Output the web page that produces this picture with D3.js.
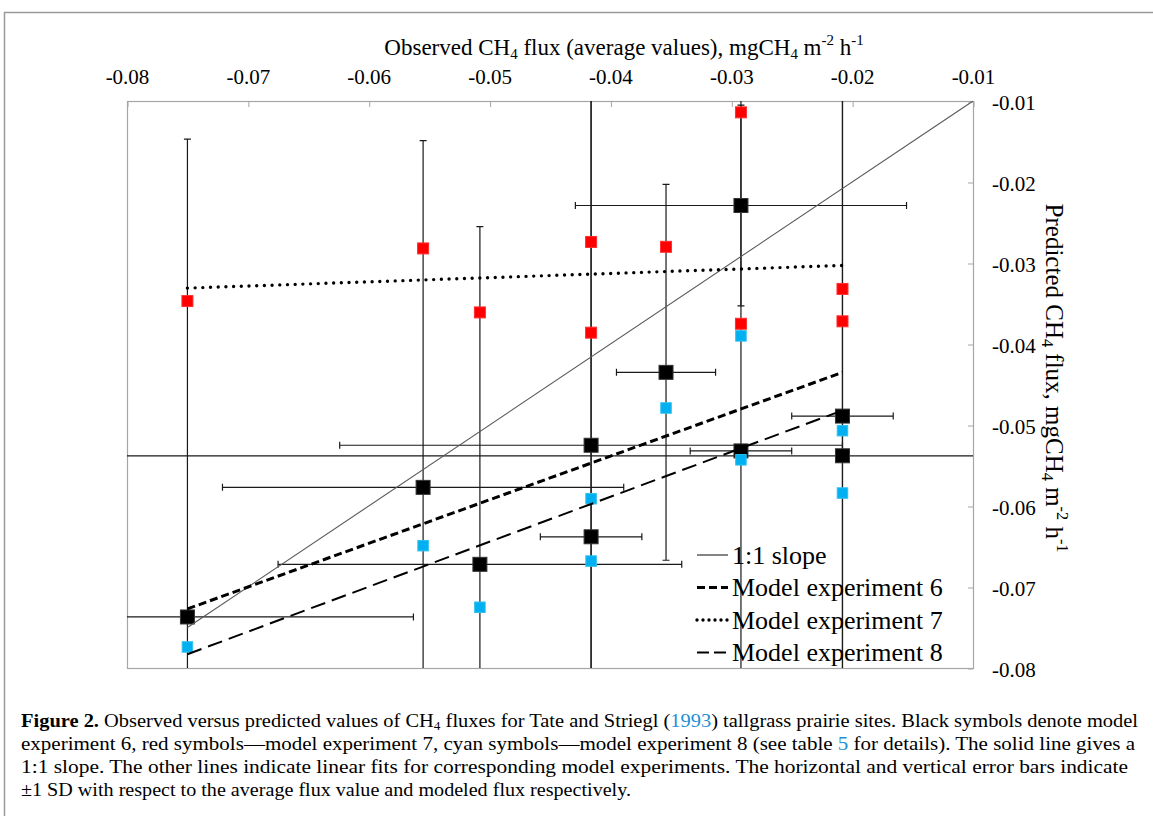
<!DOCTYPE html>
<html>
<head>
<meta charset="utf-8">
<script src="https://cdn.jsdelivr.net/npm/d3@7"></script>
<style>
  body { margin: 0; background: #fff; }
  svg { display: block; font-family: "Liberation Serif", "Times New Roman", serif; }
</style>
</head>
<body>
<div id="chart"></div>
<script>
// observed fluxes (x) with SD, and model experiments (y)
var observed = [-0.0750, -0.0555, -0.0508, -0.0416, -0.0416, -0.0354, -0.0292, -0.0292, -0.0208, -0.0208];
var observedSD = [0.0187, 0.0166, 0.0167, 0.0208, 0.0042, 0.0041, 0.0137, 0.0042, 0.0042, 0.0620];
var exp6 = [-0.0737, -0.0577, -0.0672, -0.0525, -0.0638, -0.0435, -0.0229, -0.0532, -0.0489, -0.0538];
var exp6SD = [0.0590, 0.0428, 0.0417, 0.0460, 0.0600, 0.0232, 0.0124, 0.0450, 0.0450, 0.0500];
var exp7 = [-0.0347, -0.0282, -0.0361, -0.0274, -0.0386, -0.0280, -0.0114, -0.0375, -0.0332, -0.0372];
var exp8 = [-0.0774, -0.0649, -0.0725, -0.0591, -0.0668, -0.0479, -0.0390, -0.0543, -0.0507, -0.0584];

// linear fits (end points) and 1:1 line
var fitX = [-0.0750, -0.0208];
var fit6 = [-0.0727, -0.0435];
var fit7 = [-0.0331, -0.0303];
var fit8 = [-0.0783, -0.0482];
var oneToOne = [-0.075, -0.01];

var xTicks = [-0.08, -0.07, -0.06, -0.05, -0.04, -0.03, -0.02, -0.01];
var yTicks = [-0.01, -0.02, -0.03, -0.04, -0.05, -0.06, -0.07, -0.08];

var legendLabels = ["1:1 slope", "Model experiment 6", "Model experiment 7", "Model experiment 8"];

var W = 1153, H = 816;
var plot = {left: 127, top: 101, right: 973, bottom: 668};

var svg = d3.select("#chart").append("svg")
  .attr("width", W).attr("height", H);

// figure frame
svg.append("path")
  .attr("d", "M4.5,816V12.5H1153")
  .attr("fill", "none").attr("stroke", "#9a9a9a").attr("stroke-width", 1.5);

var x = d3.scaleLinear().domain([-0.08, -0.01]).range([plot.left, plot.right]);
var y = d3.scaleLinear().domain([-0.08, -0.01]).range([plot.bottom, plot.top]);

svg.append("clipPath").attr("id", "clip")
  .append("rect")
  .attr("x", plot.left).attr("y", plot.top)
  .attr("width", plot.right - plot.left).attr("height", plot.bottom - plot.top);

// plot frame
svg.append("rect")
  .attr("x", plot.left + 0.5).attr("y", plot.top + 0.5)
  .attr("width", plot.right - plot.left).attr("height", plot.bottom - plot.top)
  .attr("fill", "none").attr("stroke", "#a6a6a6").attr("stroke-width", 1.2);

var fmt = function(d) { return d3.format(".2f")(d).replace("\u2212", "-"); };

// top axis
var xAxis = svg.append("g")
  .attr("transform", "translate(0," + plot.top + ")")
  .call(d3.axisTop(x).tickValues(xTicks).tickFormat(fmt)
    .tickSizeInner(-6).tickSizeOuter(0).tickPadding(17));
xAxis.attr("font-family", "Liberation Serif").attr("font-size", 21);
xAxis.select(".domain").remove();
xAxis.selectAll("line").attr("stroke", "#a6a6a6").attr("transform", "translate(0.5,0)");
xAxis.selectAll("text").attr("fill", "#000");

// right axis
var yAxis = svg.append("g")
  .attr("transform", "translate(" + plot.right + ",0)")
  .call(d3.axisRight(y).tickValues(yTicks).tickFormat(fmt)
    .tickSizeInner(-5).tickSizeOuter(0).tickPadding(19));
yAxis.attr("font-family", "Liberation Serif").attr("font-size", 21);
yAxis.select(".domain").remove();
yAxis.selectAll("line").attr("stroke", "#a6a6a6").attr("transform", "translate(0,0.5)");
yAxis.selectAll("text").attr("fill", "#000").attr("dy", "0.4em");

// axis titles
function addTitle(sel, parts) {
  parts.forEach(function(p) {
    var t = sel.append("tspan").text(p[0]);
    if (p[1] == "sub") t.attr("font-size", "0.65em").attr("dy", "0.25em");
    if (p[1] == "sup") t.attr("font-size", "0.65em").attr("dy", "-0.7em");
    if (p[1] == "back-sub") t.attr("dy", "-0.1625em");
    if (p[1] == "back-sup") t.attr("dy", "0.455em");
  });
}

var xTitle = svg.append("text")
  .attr("x", 624).attr("y", 55)
  .attr("text-anchor", "middle")
  .style("font-size", "23px");
addTitle(xTitle, [["Observed CH"], ["4", "sub"], [" flux (average values), mgCH", "back-sub"], ["4", "sub"],
  [" m", "back-sub"], ["-2", "sup"], [" h", "back-sup"], ["-1", "sup"]]);

var yTitle = svg.append("text")
  .attr("transform", "translate(1046,378) rotate(90)")
  .attr("text-anchor", "middle")
  .style("font-size", "25px");
addTitle(yTitle, [["Predicted CH"], ["4", "sub"], [" flux, mgCH", "back-sub"], ["4", "sub"],
  [" m", "back-sub"], ["-2", "sup"], [" h", "back-sup"], ["-1", "sup"]]);

var inner = svg.append("g").attr("clip-path", "url(#clip)");

var idx = d3.range(observed.length);

// error bars
var eb = inner.append("g").attr("stroke", "#1a1a1a").attr("stroke-width", 1.2).attr("fill", "none");
idx.forEach(function(i) {
  var cx = x(observed[i]), cy = y(exp6[i]);
  var x0 = x(observed[i] - observedSD[i]), x1 = x(observed[i] + observedSD[i]);
  var y0 = y(exp6[i] + exp6SD[i]), y1 = y(exp6[i] - exp6SD[i]);
  eb.append("path").attr("d",
    "M" + x0 + "," + cy + "H" + x1 +
    "M" + x0 + "," + (cy - 3.5) + "V" + (cy + 3.5) +
    "M" + x1 + "," + (cy - 3.5) + "V" + (cy + 3.5));
  eb.append("path").attr("d",
    "M" + cx + "," + y0 + "V" + y1 +
    "M" + (cx - 3.5) + "," + y0 + "H" + (cx + 3.5) +
    "M" + (cx - 3.5) + "," + y1 + "H" + (cx + 3.5));
});

// markers
function squares(values, size, fill, stroke) {
  inner.append("g").selectAll("rect")
    .data(idx)
    .enter()
    .append("rect")
    .attr("x", function(i) { return x(observed[i]) - size / 2; })
    .attr("y", function(i) { return y(values[i]) - size / 2; })
    .attr("width", size).attr("height", size)
    .attr("fill", fill)
    .attr("stroke", stroke).attr("stroke-width", 1);
}
squares(exp6, 14, "#000", "#333");
squares(exp7, 11, "#ff0000", "#ff3030");
squares(exp8, 10.5, "#00b0f0", "#30c0f0");

// fit lines
var styles = [
  {stroke: "#595959", width: 1.1, dash: null, cap: "butt"},
  {stroke: "#000", width: 3, dash: "8,4", cap: "butt"},
  {stroke: "#000", width: 3.4, dash: "0,7.7", cap: "round"},
  {stroke: "#000", width: 2, dash: "15,7", cap: "butt"}
];
var lines = [
  [[oneToOne[0], oneToOne[0]], [oneToOne[1], oneToOne[1]]],
  [[fitX[0], fit6[0]], [fitX[1], fit6[1]]],
  [[fitX[0], fit7[0]], [fitX[1], fit7[1]]],
  [[fitX[0], fit8[0]], [fitX[1], fit8[1]]]
];
var line = d3.line().x(function(d) { return x(d[0]); }).y(function(d) { return y(d[1]); });
lines.forEach(function(l, k) {
  inner.append("path")
    .attr("d", line(l))
    .attr("fill", "none")
    .attr("stroke", styles[k].stroke)
    .attr("stroke-width", styles[k].width)
    .attr("stroke-dasharray", styles[k].dash)
    .attr("stroke-linecap", styles[k].cap);
});

// legend
var legend = svg.append("g").attr("transform", "translate(697,555)");
legendLabels.forEach(function(lab, k) {
  var g = legend.append("g").attr("transform", "translate(0," + (k * 32.5) + ")");
  g.append("line")
    .attr("x1", 0).attr("x2", 31).attr("y1", 0).attr("y2", 0)
    .attr("stroke", k == 0 ? "#333" : "#000")
    .attr("stroke-width", k == 0 ? 1.2 : styles[k].width)
    .attr("stroke-dasharray", k == 2 ? "0,6" : (k == 3 ? "12,5" : styles[k].dash))
    .attr("stroke-linecap", styles[k].cap);
  g.append("text")
    .attr("x", 35).attr("y", 0).attr("dy", "0.33em")
    .style("font-size", "26px")
    .text(lab);
});

// caption
var captionLines = [
  [["Figure 2.", "b"], [" Observed versus predicted values of CH"], ["4", "sub"], [" fluxes for Tate and Striegl (", "back-sub"], ["1993", "link"], [") tallgrass prairie sites. Black symbols denote model"]],
  [["experiment 6, red symbols\u2014model experiment 7, cyan symbols\u2014model experiment 8 (see table "], ["5", "link"], [" for details). The solid line gives a"]],
  [["1:1 slope. The other lines indicate linear fits for corresponding model experiments. The horizontal and vertical error bars indicate"]],
  [["\u00b11 SD with respect to the average flux value and modeled flux respectively."]]
];
var captionWidths = [1117, 1114, 1107, 610];
captionLines.forEach(function(parts, k) {
  var t = svg.append("text")
    .attr("x", 21).attr("y", 727 + k * 23)
    .style("font-size", "19.5px");
  parts.forEach(function(p) {
    var s = t.append("tspan").text(p[0]);
    if (p[1] == "b") s.attr("font-weight", "bold");
    if (p[1] == "link") s.attr("fill", "#1d8fd6");
    if (p[1] == "sub") s.attr("font-size", "0.65em").attr("dy", "0.25em");
    if (p[1] == "back-sub") s.attr("dy", "-0.1625em");
  });
  t.attr("textLength", captionWidths[k]).attr("lengthAdjust", "spacingAndGlyphs");
});
</script>
</body>
</html>
